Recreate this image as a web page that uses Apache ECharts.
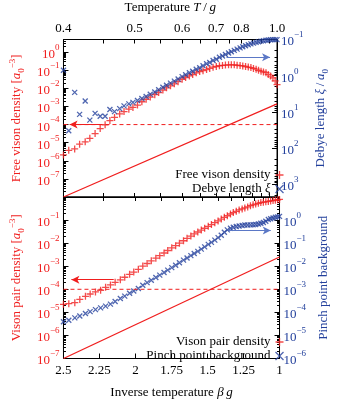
<!DOCTYPE html>
<html><head><meta charset="utf-8">
<script src="https://cdn.jsdelivr.net/npm/echarts@6/dist/echarts.min.js"></script>
<style>html,body{margin:0;padding:0;background:#fff}#c{width:338px;height:400px}</style>
</head><body><div id="c"></div><script>
// ---- data ----
const temperature = [0.400,0.406,0.413,0.419,0.426,0.432,0.439,0.446,0.453,0.460,0.467,0.475,0.482,0.490,0.497,0.505,0.513,0.521,0.529,0.538,0.546,0.555,0.563,0.572,0.581,0.590,0.600,0.609,0.619,0.628,0.638,0.648,0.658,0.669,0.679,0.690,0.701,0.712,0.723,0.734,0.746,0.757,0.769,0.781,0.794,0.806,0.819,0.832,0.845,0.858,0.872,0.885,0.899,0.913,0.928,0.942,0.957,0.972,0.987,1.000];
const freeVisonDensity = [2.1e-6,3.8e-6,4.5e-6,8.3e-6,1.12e-5,1.74e-5,3.2e-5,6.0e-5,9.8e-5,1.66e-4,2.5e-4,3.9e-4,5.2e-4,7.1e-4,8.9e-4,1.2e-3,1.82e-3,2.5e-3,3.3e-3,4.5e-3,5.9e-3,8.1e-3,1.07e-2,1.38e-2,1.78e-2,2.34e-2,3.2e-2,4.0e-2,4.9e-2,5.8e-2,7.2e-2,8.5e-2,9.5e-2,0.11,0.126,0.148,0.162,0.178,0.186,0.195,0.2,0.2,0.2,0.19,0.182,0.174,0.162,0.151,0.141,0.126,0.115,0.1,0.089,0.081,0.074,0.059,0.048,0.038,0.026,0.016];
const debyeLength = [0.706,33.1,2.88,11.7,4.99,16.9,11.0,13.2,13.2,8.6,9.8,8.1,6.8,6.0,5.46,4.83,4.28,3.74,3.25,2.81,2.45,2.09,1.83,1.60,1.41,1.23,1.06,0.94,0.83,0.75,0.66,0.60,0.53,0.47,0.43,0.38,0.35,0.31,0.286,0.26,0.235,0.217,0.2,0.184,0.170,0.159,0.149,0.140,0.132,0.126,0.120,0.115,0.111,0.108,0.105,0.103,0.102,0.101,0.101,0.101];
const visonPairDensity = [2.22e-5,2.38e-5,2.62e-5,3.64e-5,4.96e-5,6.25e-5,7.65e-5,9.1e-5,1.22e-4,1.55e-4,2.01e-4,2.58e-4,3.32e-4,4.43e-4,5.58e-4,7.33e-4,1.01e-3,1.31e-3,1.71e-3,2.24e-3,2.86e-3,3.74e-3,4.81e-3,6.24e-3,7.79e-3,1.0e-2,1.27e-2,1.61e-2,2.03e-2,2.53e-2,3.04e-2,3.68e-2,4.43e-2,5.37e-2,6.38e-2,7.75e-2,9.22e-2,0.111,0.131,0.154,0.183,0.211,0.240,0.274,0.305,0.336,0.373,0.42,0.457,0.494,0.534,0.571,0.594,0.617,0.641,0.673,0.70,0.727,0.755,0.786];
const pinchPointBackground = [3.92e-5,4.53e-5,5.75e-5,6.98e-5,8.89e-5,1.08e-4,1.31e-4,1.56e-4,1.87e-4,2.27e-4,2.97e-4,3.97e-4,5.06e-4,6.75e-4,8.43e-4,1.09e-3,1.49e-3,1.95e-3,2.48e-3,3.26e-3,4.10e-3,5.38e-3,6.78e-3,8.71e-3,1.11e-2,1.41e-2,1.83e-2,2.26e-2,2.88e-2,3.56e-2,4.41e-2,5.51e-2,6.87e-2,8.83e-2,0.108,0.135,0.174,0.221,0.295,0.376,0.443,0.488,0.527,0.558,0.586,0.608,0.615,0.621,0.627,0.638,0.67,0.724,0.782,0.895,1.05,1.14,1.24,1.32,1.38,1.45];
const freeRefLine = [[2.5, 1e-8], [1, 1.4e-3]];
const pairRefLine = [[2.5, 1e-7], [1, 2.5e-3]];
const thresholdLine = [[2.5, 1e-4], [1, 1e-4]];
const tempTickValues = [0.4,0.45,0.5,0.55,0.6,0.65,0.7,0.75,0.8,0.85,0.9,0.95,1.0];
const tempLabelValues = [0.4,0.5,0.6,0.7,0.8,1.0];
const freeArrow = [[2.457, 1e-4], [2.23, 1e-4]];
const debyeArrow = [[1.355, 0.31], [1.049, 0.31]];
const pairArrow = [[2.445, 2.6e-4], [2.151, 2.6e-4]];
const pinchArrow = [[1.355, 0.35], [1.061, 0.35]];

// ---- style ----
const RED = '#f01e1e';
const BLUE = '#23409c';
const BLUE_ARROW = '#5b78c6';
const FONT = 'Liberation Serif';
const PLUS = 'path://M0,4L8,4M4,0L4,8';
const CROSS = 'path://M0,0L8,8M8,0L0,8';

const beta = temperature.map(t => 1 / t);
const pts = vals => vals.map((v, i) => [beta[i], v]);
const tempTicksB = tempTickValues.map(t => 1 / t);
const tempLabelsB = tempLabelValues.map(t => 1 / t);

function minorTicks(lo, hi) {
  const out = [];
  for (let e = lo; e < hi; e++) for (let k = 2; k <= 9; k++) out.push(k * Math.pow(10, e));
  return out;
}
function decadeLabel(hide) {
  return v => {
    const l = Math.log10(v), e = Math.round(l);
    if (Math.abs(l - e) > 1e-6 || hide.indexOf(e) >= 0) return '';
    return '{b|10}{s|' + (e < 0 ? '\u2212' + (-e) : String(e)) + '}';
  };
}
function richFor(color) {
  return {
    b: {fontFamily: FONT, fontSize: 13, color: color, lineHeight: 18, verticalAlign: 'bottom'},
    s: {fontFamily: FONT, fontSize: 9, color: color, verticalAlign: 'top'}
  };
}
function nameRich(color) {
  return {
    t: {fontFamily: FONT, fontSize: 13, color: color, lineHeight: 18, verticalAlign: 'middle'},
    i: {fontFamily: FONT, fontSize: 13, color: color, fontStyle: 'italic', verticalAlign: 'middle'},
    sub: {fontFamily: FONT, fontSize: 9, color: color, verticalAlign: 'bottom'},
    sup: {fontFamily: FONT, fontSize: 9, color: color, verticalAlign: 'top'}
  };
}
const axisLineBlack = {show: true, onZero: false, lineStyle: {color: '#000', width: 1}};

function majorY(grid, pos, min, max, inverse, color, hide, name, gap) {
  return {
    type: 'log', logBase: 10, gridIndex: grid, position: pos, min: min, max: max, inverse: inverse, interval: 1,
    axisLine: axisLineBlack,
    axisTick: {show: true, inside: true, length: 5, lineStyle: {color: '#000'}},
    axisLabel: {show: true, margin: 4, formatter: decadeLabel(hide), rich: richFor(color)},
    splitLine: {show: false},
    name: name, nameLocation: 'middle', nameRotate: 90, nameGap: gap,
    nameTextStyle: {rich: nameRich(color)}
  };
}
function minorY(grid, pos, min, max, inverse, lo, hi) {
  return {
    type: 'log', logBase: 10, gridIndex: grid, position: pos, min: min, max: max, inverse: inverse,
    axisLine: {show: false},
    axisTick: {show: true, inside: true, length: 2.5, customValues: minorTicks(lo, hi), lineStyle: {color: '#000'}},
    axisLabel: {show: false},
    splitLine: {show: false}
  };
}
function tempX(grid, pos, labels, name) {
  return {
    type: 'value', gridIndex: grid, position: pos, min: 1, max: 2.5, inverse: true,
    axisLine: axisLineBlack,
    axisTick: {show: true, inside: true, length: 4, customValues: tempTicksB, lineStyle: {color: '#000'}},
    axisLabel: labels ? {show: true, customValues: tempLabelsB, margin: 4, fontFamily: FONT, fontSize: 13, color: '#000',
      formatter: v => (1 / v).toFixed(1)} : {show: false},
    splitLine: {show: false},
    name: name || '', nameLocation: 'middle', nameGap: 23,
    nameTextStyle: {rich: nameRich('#000')}
  };
}

const option = {
  animation: false,
  backgroundColor: '#fff',
  grid: [
    {left: 48, right: 45, top: 33, height: 164, show: true, borderColor: '#000', borderWidth: 1, containLabel: false},
    {left: 48, right: 45, top: 197, height: 167, show: true, borderColor: '#000', borderWidth: 1, containLabel: false}
  ],
  xAxis: [
    tempX(0, 'top', true, '{t|Temperature }{i|T}{t|\u2009/\u2009}{i|g}'),
    tempX(0, 'bottom', false),
    {
      type: 'value', gridIndex: 1, position: 'bottom', min: 1, max: 2.5, inverse: true, interval: 0.25,
      axisLine: axisLineBlack,
      axisTick: {show: true, inside: true, length: 5, lineStyle: {color: '#000'}},
      axisLabel: {show: true, margin: 6, fontFamily: FONT, fontSize: 13, color: '#000'},
      splitLine: {show: false},
      name: '{t|Inverse temperature }{i|\u03b2\u2009g}', nameLocation: 'middle', nameGap: 25,
      nameTextStyle: {rich: nameRich('#000')}
    },
    tempX(1, 'top', false)
  ],
  yAxis: [
    majorY(0, 'left', 1e-8, Math.pow(10, 0.7), false, RED, [-8],
      '{t|Free vison density [}{i|a}{sub|0}{sup|\u22123}{t|]}', 34),
    minorY(0, 'left', 1e-8, Math.pow(10, 0.7), false, -8, 1),
    majorY(0, 'right', 0.1, Math.pow(10, 3.35), true, BLUE, [],
      '{t|Debye length }{i|\u03be}{t|\u2009/\u2009}{i|a}{sub|0}', 31),
    minorY(0, 'right', 0.1, Math.pow(10, 3.35), true, -1, 4),
    majorY(1, 'left', 1e-7, 1, false, RED, [0],
      '{t|Vison pair density [}{i|a}{sub|0}{sup|\u22123}{t|]}', 34),
    minorY(1, 'left', 1e-7, 1, false, -7, 0),
    majorY(1, 'right', 1e-6, 10, false, BLUE, [1],
      '{t|Pinch point background}', 31),
    minorY(1, 'right', 1e-6, 10, false, -6, 1)
  ],
  legend: [
    {
      orient: 'vertical', align: 'right', right: 47, top: 163, itemGap: 0, itemWidth: 8, itemHeight: 8,
      textStyle: {fontFamily: FONT, fontSize: 13, color: '#000', lineHeight: 14,
        rich: {t: {fontFamily: FONT, fontSize: 13, color: '#000', lineHeight: 14}, i: {fontFamily: FONT, fontSize: 13, fontStyle: 'italic', color: '#000', lineHeight: 14}}},
      formatter: n => n === 'Debye length \u03be' ? '{t|Debye length }{i|\u03be}' : '{t|' + n + '}',
      data: [
        {name: 'Free vison density', icon: PLUS, itemStyle: {color: 'none', borderColor: RED, borderWidth: 1.3}},
        {name: 'Debye length \u03be', icon: CROSS, itemStyle: {color: 'none', borderColor: BLUE, borderWidth: 1.3}}
      ]
    },
    {
      orient: 'vertical', align: 'right', right: 47, top: 330, itemGap: 0, itemWidth: 8, itemHeight: 8,
      textStyle: {fontFamily: FONT, fontSize: 13, color: '#000', lineHeight: 14},
      data: [
        {name: 'Vison pair density', icon: PLUS, itemStyle: {color: 'none', borderColor: RED, borderWidth: 1.3}},
        {name: 'Pinch point background', icon: CROSS, itemStyle: {color: 'none', borderColor: BLUE, borderWidth: 1.3}}
      ]
    }
  ],
  series: [
    {
      name: 'free-ref', type: 'line', xAxisIndex: 0, yAxisIndex: 0, data: freeRefLine, showSymbol: false, symbol: 'none',
      lineStyle: {color: RED, width: 1.2}, silent: true
    },
    {
      name: 'free-threshold', type: 'line', xAxisIndex: 0, yAxisIndex: 0, data: thresholdLine, showSymbol: false, symbol: 'none',
      lineStyle: {color: RED, width: 1, type: [4, 3]}, silent: true,
      markLine: {silent: true, symbol: ['arrow', 'none'], symbolSize: [6, 8], label: {show: false},
        lineStyle: {color: RED, width: 1, type: 'solid'},
        data: [[{coord: freeArrow[0]}, {coord: freeArrow[1]}]]}
    },
    {
      name: 'Free vison density', type: 'scatter', xAxisIndex: 0, yAxisIndex: 0, data: pts(freeVisonDensity),
      symbol: PLUS, symbolSize: 7, itemStyle: {color: 'none', borderColor: RED, borderWidth: 1.3}
    },
    {
      name: 'Debye length \u03be', type: 'scatter', xAxisIndex: 0, yAxisIndex: 2, data: pts(debyeLength),
      symbol: CROSS, symbolSize: 5, clip: false, itemStyle: {color: 'none', borderColor: BLUE, borderWidth: 1.3},
      markLine: {silent: true, symbol: ['none', 'arrow'], symbolSize: [6, 8], label: {show: false},
        lineStyle: {color: BLUE_ARROW, width: 1, type: 'solid'},
        data: [[{coord: debyeArrow[0]}, {coord: debyeArrow[1]}]]}
    },
    {
      name: 'pair-ref', type: 'line', xAxisIndex: 2, yAxisIndex: 4, data: pairRefLine, showSymbol: false, symbol: 'none',
      lineStyle: {color: RED, width: 1.2}, silent: true
    },
    {
      name: 'pair-threshold', type: 'line', xAxisIndex: 2, yAxisIndex: 4, data: thresholdLine, showSymbol: false, symbol: 'none',
      lineStyle: {color: RED, width: 1, type: [4, 3]}, silent: true,
      markLine: {silent: true, symbol: ['arrow', 'none'], symbolSize: [6, 8], label: {show: false},
        lineStyle: {color: RED, width: 1, type: 'solid'},
        data: [[{coord: pairArrow[0]}, {coord: pairArrow[1]}]]}
    },
    {
      name: 'Vison pair density', type: 'scatter', xAxisIndex: 2, yAxisIndex: 4, data: pts(visonPairDensity),
      symbol: PLUS, symbolSize: 7, itemStyle: {color: 'none', borderColor: RED, borderWidth: 1.3}
    },
    {
      name: 'Pinch point background', type: 'scatter', xAxisIndex: 2, yAxisIndex: 6, data: pts(pinchPointBackground),
      symbol: CROSS, symbolSize: 5, itemStyle: {color: 'none', borderColor: BLUE, borderWidth: 1.3},
      markLine: {silent: true, symbol: ['none', 'arrow'], symbolSize: [6, 8], label: {show: false},
        lineStyle: {color: BLUE_ARROW, width: 1, type: 'solid'},
        data: [[{coord: pinchArrow[0]}, {coord: pinchArrow[1]}]]}
    }
  ]
};
const chart = echarts.init(document.getElementById('c'), null, {renderer: 'canvas'});
chart.setOption(option);
</script></body></html>
